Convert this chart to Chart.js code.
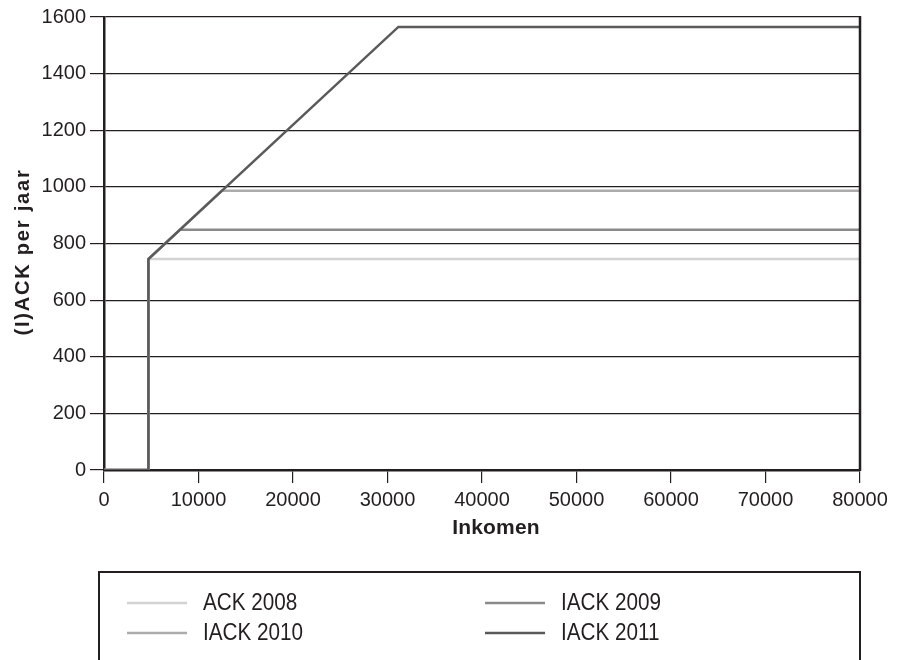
<!DOCTYPE html>
<html>
<head>
<meta charset="utf-8">
<script src="https://cdn.jsdelivr.net/npm/chart.js@4/dist/chart.umd.min.js"></script>
<style>
  html, body { margin: 0; padding: 0; background: #fff; }
  #wrap { width: 901px; height: 660px; position: relative; }
</style>
</head>
<body>
<div id="wrap"><canvas id="c" width="901" height="660"></canvas></div>
<script>
// Inkomensafhankelijke (I)ACK per jaar – knikpunten per regeling
const seriesLabels = ['ACK 2008', 'IACK 2009', 'IACK 2010', 'IACK 2011'];
const ack2008Income  = [0, 4700, 4700, 80000];
const ack2008Value   = [0, 0, 745, 745];
const iack2009Income = [0, 4700, 4700, 8050, 80000];
const iack2009Value  = [0, 0, 745, 849, 849];
const iack2010Income = [0, 4700, 4700, 12440, 80000];
const iack2010Value  = [0, 0, 745, 986, 986];
const iack2011Income = [0, 4700, 4700, 31150, 80000];
const iack2011Value  = [0, 0, 745, 1565, 1565];
const seriesColors = ['#d2d2d2', '#8a8a8a', '#ababab', '#5a5a5a'];

const xTicks = [0, 10000, 20000, 30000, 40000, 50000, 60000, 70000, 80000];
const yTicks = [0, 200, 400, 600, 800, 1000, 1200, 1400, 1600];

const xTitle = 'Inkomen';
const yTitle = '(I)ACK per jaar';

function pts(xs, ys) { return xs.map((x, i) => ({ x: x, y: ys[i] })); }

const seriesPoints = [
  pts(ack2008Income, ack2008Value),
  pts(iack2009Income, iack2009Value),
  pts(iack2010Income, iack2010Value),
  pts(iack2011Income, iack2011Value)
];

const FONT = '"Liberation Sans", Arial, Helvetica, sans-serif';
const INK = '#231f20';

// Right-hand frame line of the plot
const frameRight = {
  id: 'frameRight',
  afterDatasetsDraw(chart) {
    const { ctx, chartArea: a } = chart;
    ctx.save();
    ctx.strokeStyle = INK;
    ctx.lineWidth = 2.5;
    ctx.beginPath();
    ctx.moveTo(a.right, a.top - 1);
    ctx.lineTo(a.right, a.bottom + 1);
    ctx.stroke();
    ctx.restore();
  }
};

// Axis titles (spaced bold type)
const axisTitles = {
  id: 'axisTitles',
  afterDraw(chart) {
    const ctx = chart.ctx;
    ctx.save();
    ctx.fillStyle = INK;
    ctx.textAlign = 'center';
    ctx.textBaseline = 'middle';
    // x title
    ctx.font = 'bold 21px ' + FONT;
    if ('letterSpacing' in ctx) ctx.letterSpacing = '0.2px';
    ctx.fillText(xTitle, 496, 528);
    // y title
    ctx.translate(23, 252);
    ctx.rotate(-Math.PI / 2);
    ctx.font = 'bold 20px ' + FONT;
    if ('letterSpacing' in ctx) ctx.letterSpacing = '1.8px';
    ctx.fillText(yTitle, 0, 0);
    ctx.restore();
  }
};

// Boxed two-column legend below the chart
const boxLegend = {
  id: 'boxLegend',
  afterDraw(chart) {
    const ctx = chart.ctx;
    const a = chart.chartArea;
    const left = a.left - 5, right = a.right, top = 572;
    ctx.save();
    ctx.strokeStyle = INK;
    ctx.lineWidth = 2;
    ctx.beginPath();
    ctx.moveTo(left, 665);
    ctx.lineTo(left, top);
    ctx.lineTo(right, top);
    ctx.lineTo(right, 665);
    ctx.stroke();
    const cols = [127, 485];
    const rows = [603, 633];
    ctx.font = '23px ' + FONT;
    ctx.fillStyle = INK;
    ctx.textBaseline = 'middle';
    chart.data.datasets.forEach((ds, i) => {
      const cx = cols[i % 2], cy = rows[Math.floor(i / 2)];
      ctx.strokeStyle = ds.borderColor;
      ctx.lineWidth = 2.5;
      ctx.beginPath();
      ctx.moveTo(cx, cy);
      ctx.lineTo(cx + 60, cy);
      ctx.stroke();
      ctx.save();
      ctx.translate(cx + 76, cy + 1);
      ctx.scale(0.9, 1);
      ctx.fillText(ds.label, 0, 0);
      ctx.restore();
    });
    ctx.restore();
  }
};

new Chart(document.getElementById('c'), {
  type: 'line',
  data: {
    datasets: seriesLabels.map((label, i) => ({
      label: label,
      data: seriesPoints[i],
      borderColor: seriesColors[i],
      backgroundColor: seriesColors[i],
      borderWidth: 2.5,
      pointRadius: 0,
      tension: 0,
      fill: false,
      order: seriesLabels.length - 1 - i
    }))
  },
  options: {
    responsive: false,
    animation: false,
    layout: { padding: { left: 0, top: 17, right: 41, bottom: 120 } },
    plugins: {
      legend: { display: false },
      tooltip: { enabled: false }
    },
    scales: {
      x: {
        type: 'linear',
        min: 0, max: 80000,
        afterBuildTicks: s => { s.ticks = xTicks.map(v => ({ value: v })); },
        afterFit: s => { s.height = 70; },
        border: { display: true, color: INK, width: 2.5 },
        grid: { drawOnChartArea: false, drawTicks: true, tickLength: 13, color: INK, lineWidth: 1.2 },
        ticks: { color: INK, font: { family: FONT, size: 20 }, padding: 5, maxRotation: 0,
                 callback: v => String(v) },
        title: { display: false }
      },
      y: {
        type: 'linear',
        min: 0, max: 1600,
        afterBuildTicks: s => { s.ticks = yTicks.map(v => ({ value: v })); },
        afterFit: s => { s.width = 104; },
        border: { display: true, color: INK, width: 2.5 },
        grid: { drawOnChartArea: true, drawTicks: true, tickLength: 14, color: INK, lineWidth: 1.2 },
        ticks: { color: INK, font: { family: FONT, size: 20 }, padding: 4,
                 callback: v => String(v) },
        title: { display: false }
      }
    }
  },
  plugins: [frameRight, axisTitles, boxLegend]
});
</script>
</body>
</html>
